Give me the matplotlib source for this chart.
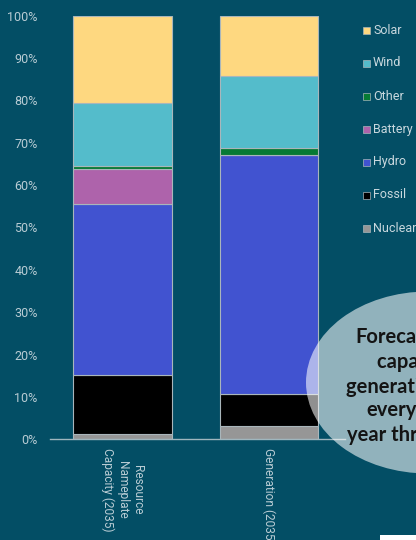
import matplotlib
matplotlib.use("Agg")
import matplotlib.pyplot as plt
from matplotlib.patches import Ellipse, Rectangle

categories = ["Resource\nNameplate\nCapacity (2035)", "Generation (2035)"]
series = ["Nuclear", "Fossil", "Hydro", "Battery", "Other", "Wind", "Solar"]
nuclear = [1.3, 3.2]
fossil = [13.9, 7.4]
hydro = [40.3, 56.4]
battery = [8.3, 0.0]
other = [0.8, 1.8]
wind = [14.7, 17.0]
solar = [20.7, 14.2]
values = [nuclear, fossil, hydro, battery, other, wind, solar]
colors = ["#969696", "#000000", "#4153D0", "#AE63AB", "#067A34", "#54BCCB", "#FED880"]
yticks = [0, 10, 20, 30, 40, 50, 60, 70, 80, 90, 100]
ytick_labels = [f"{v}%" for v in yticks]
callout_lines = ["Forecasted", "capacity and", "generation for", "every", "year through"]

BG = "#034E65"
TXT = "#B9CCD4"

plt.rcParams['font.family'] = ['Roboto', 'DejaVu Sans']
fig = plt.figure(figsize=(4.16, 5.40), dpi=100, facecolor=BG)
ax = fig.add_axes([50/416, (540-439.3)/540, 295/416, 423.6/540])
ax.set_facecolor(BG)

x = [0, 1]
bottom = [0.0, 0.0]
for name, vals, c in zip(series, values, colors):
    ax.bar(x, vals, width=0.672, bottom=bottom, color=c, edgecolor="#A9B6BB",
           linewidth=0.8, label=name, zorder=2)
    bottom = [b + v for b, v in zip(bottom, vals)]

ax.set_xlim(-0.495, 1.519)
ax.set_ylim(0, 100)
ax.set_yticks(yticks)
ax.set_yticklabels(ytick_labels, color=TXT, fontsize=9)
ax.tick_params(axis='y', length=0, pad=9)
ax.set_xticks([])
for s in ["top", "right", "left"]:
    ax.spines[s].set_visible(False)
ax.spines["bottom"].set_color("#9FB6BE")
ax.spines["bottom"].set_linewidth(1.0)

for xi, lab in zip(x, categories):
    ax.text(xi, -2.0, lab, rotation=270, ha="center", va="top",
            multialignment="center", color=TXT, fontsize=8.6,
            transform=ax.transData, clip_on=False)

# legend (manual, reversed order)
leg_y = [30, 63, 96, 129, 162, 195, 228]
for yy, name, c in zip(leg_y, series[::-1], colors[::-1]):
    fig.patches.append(Rectangle((363/416, 1 - (yy + 3.5)/540), 7/416, 7/540,
                                 transform=fig.transFigure, facecolor=c,
                                 edgecolor="#A9B6BB", linewidth=0.5))
    fig.text(373/416, 1 - yy/540, name, color="#C9D8DE", fontsize=9,
             ha="left", va="center")

# callout ellipse
fig.patches.append(Ellipse((428/416, 1 - 382.5/540), 244/416, 182/540,
                           transform=fig.transFigure, facecolor="white",
                           alpha=0.57, edgecolor="none", zorder=5))
line_x = [355, 377, 346, 366, 347]
line_y = [337, 362, 387, 410, 435]
for lx, ly, t in zip(line_x, line_y, callout_lines):
    fig.text(lx/416, 1 - ly/540, t, color="#141414", fontsize=14.5,
             fontweight="bold", family=["Lato", "DejaVu Sans"],
             ha="left", va="center", zorder=6)

fig.patches.append(Rectangle((380/416, 0), 36/416, 5/540, transform=fig.transFigure,
                             facecolor="white", edgecolor="none"))

fig.savefig("out.png", dpi=100, facecolor=BG)
